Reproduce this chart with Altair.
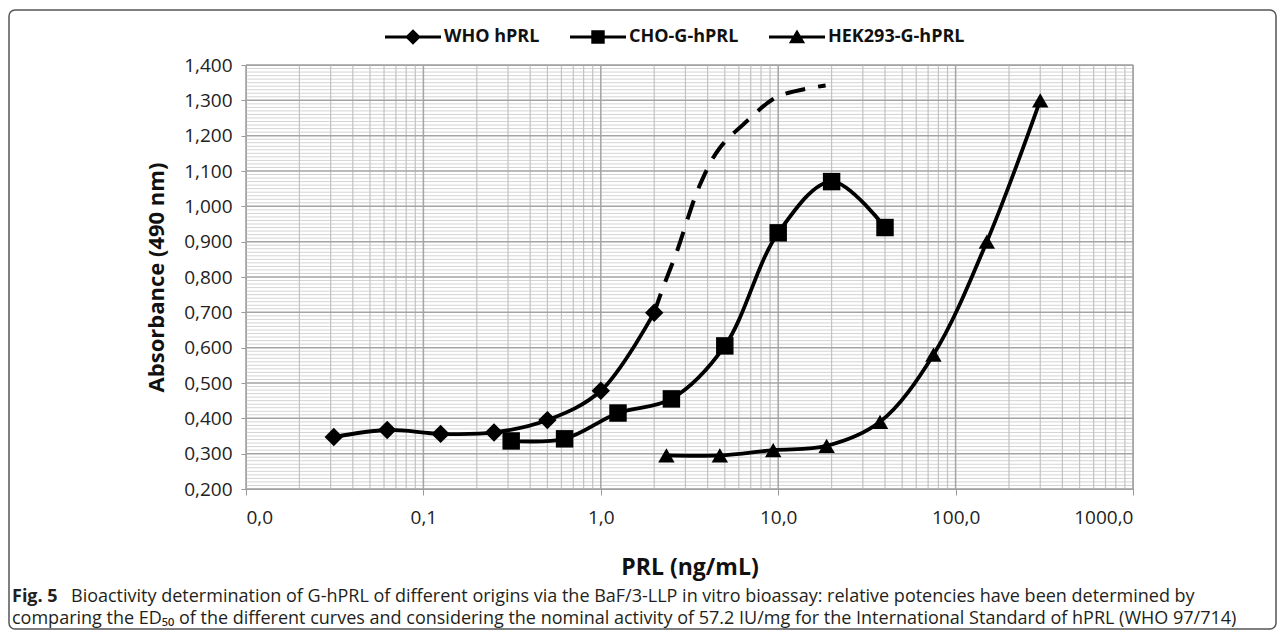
import altair as alt
import pandas as pd

# ---------------- data ----------------
SERIES = ["WHO hPRL", "CHO-G-hPRL", "HEK293-G-hPRL"]

WHO_X = [0.03125, 0.0625, 0.125, 0.25, 0.5, 1.0, 2.0]
WHO_Y = [0.347, 0.367, 0.356, 0.360, 0.395, 0.478, 0.699]

CHO_X = [0.3125, 0.625, 1.25, 2.5, 5.0, 10.0, 20.0, 40.0]
CHO_Y = [0.336, 0.342, 0.415, 0.455, 0.605, 0.925, 1.070, 0.940]

HEK_X = [2.34375, 4.6875, 9.375, 18.75, 37.5, 75.0, 150.0, 300.0]
HEK_Y = [0.295, 0.295, 0.310, 0.322, 0.390, 0.580, 0.900, 1.300]

# dashed extrapolation of the WHO curve
EXT_X = [2.0, 2.25, 2.68, 3.6, 4.65, 6.7, 9.9, 18.5]
EXT_Y = [0.699, 0.772, 0.871, 1.058, 1.163, 1.242, 1.310, 1.342]

X_MAJOR = [0.01, 0.1, 1, 10, 100, 1000]
X_MINOR = [0.02, 0.03, 0.04, 0.05, 0.06, 0.07, 0.08, 0.09,
           0.2, 0.3, 0.4, 0.5, 0.6, 0.7, 0.8, 0.9,
           2, 3, 4, 5, 6, 7, 8, 9,
           20, 30, 40, 50, 60, 70, 80, 90,
           200, 300, 400, 500, 600, 700, 800, 900]
Y_MAJOR = [0.2, 0.3, 0.4, 0.5, 0.6, 0.7, 0.8, 0.9, 1.0, 1.1, 1.2, 1.3, 1.4]
Y_MINOR = [round(0.2 + 0.01 * i, 2) for i in range(121) if i % 10 != 0]

X_TITLE = "PRL (ng/mL)"
Y_TITLE = "Absorbance (490 nm)"
CAPTION_BOLD = "Fig. 5"
CAPTION_1 = ("Bioactivity determination of G-hPRL of different origins via the BaF/3-LLP in vitro "
             "bioassay: relative potencies have been determined by")
CAPTION_2 = ("comparing the ED\u2085\u2080 of the different curves and considering the nominal activity "
             "of 57.2 IU/mg for the International Standard of hPRL (WHO 97/714)")

# legend symbols: line stub + marker (custom SVG paths in unit space)
LEGEND_PATHS = [
    "M-1,-0.055H1V0.055H-1Z M0,-0.28L0.28,0L0,0.28L-0.28,0Z",
    "M-1,-0.055H1V0.055H-1Z M-0.24,-0.24H0.24V0.24H-0.24Z",
    "M-1,-0.055H1V0.055H-1Z M0,-0.27L0.29,0.22L-0.29,0.22Z",
]

FONT = "Open Sans"
CAP_FONT = "Open Sans"
W, H = 887, 424

rows = []
for name, xs, ys in [(SERIES[0], WHO_X, WHO_Y), (SERIES[1], CHO_X, CHO_Y), (SERIES[2], HEK_X, HEK_Y)]:
    for xv, yv in zip(xs, ys):
        rows.append({"series": name, "x": xv, "y": yv})
df = pd.DataFrame(rows)
ext_df = pd.DataFrame({"x": EXT_X, "y": EXT_Y})

xscale = alt.Scale(type="log", domain=[0.01, 1000], nice=False)
yscale = alt.Scale(domain=[0.2, 1.4], nice=False, zero=False)

xaxis = alt.Axis(values=X_MAJOR, labelExpr="replace(format(datum.value, '.1f'), '.', ',')",
                 grid=False, labelFont=FONT, labelFontSize=19, labelColor="#222",
                 labelPadding=13, tickSize=6, tickColor="#999", domainColor="#999",
                 titleFont=FONT, titleFontSize=23, titleFontWeight="bold", titleColor="#111",
                 titlePadding=29)
yaxis = alt.Axis(values=Y_MAJOR, labelExpr="replace(format(datum.value, '.3f'), '.', ',')",
                 grid=False, labelFont=FONT, labelFontSize=19, labelColor="#222",
                 labelPadding=9, tickSize=5, tickColor="#999", domainColor="#999",
                 titleFont=FONT, titleFontSize=22, titleFontWeight="bold", titleColor="#111",
                 titlePadding=15)

X = alt.X("x:Q", scale=xscale, axis=xaxis, title=X_TITLE)
Y = alt.Y("y:Q", scale=yscale, axis=yaxis, title=Y_TITLE)

hminor = alt.Chart(pd.DataFrame({"y": Y_MINOR})).mark_rule(color="#d4d4d4", strokeWidth=1).encode(y=Y)
vminor = alt.Chart(pd.DataFrame({"x": X_MINOR})).mark_rule(color="#c2c2c2", strokeWidth=1.2).encode(x=X)
hmajor = alt.Chart(pd.DataFrame({"y": Y_MAJOR})).mark_rule(color="#a4a4a4", strokeWidth=1.5).encode(y=Y)
vmajor = alt.Chart(pd.DataFrame({"x": X_MAJOR})).mark_rule(color="#a4a4a4", strokeWidth=1.5).encode(x=X)

lines = alt.Chart(df).mark_line(interpolate="catmull-rom", strokeWidth=3.8, color="black").encode(
    x=X, y=Y, detail="series:N")
dashed = alt.Chart(ext_df).mark_line(interpolate="catmull-rom", strokeWidth=4, color="black",
                                     strokeDash=[20, 13]).encode(x=X, y=Y)
points = alt.Chart(df).mark_point(filled=True, color="black", opacity=1).encode(
    x=X, y=Y,
    shape=alt.Shape("series:N", scale=alt.Scale(domain=SERIES, range=["diamond", "square", "triangle-up"]),
                    legend=None),
    size=alt.Size("series:N", scale=alt.Scale(domain=SERIES, range=[340, 270, 420]), legend=None),
)
legend_layer = alt.Chart(df).mark_point(filled=True, color="black", opacity=0).encode(
    x=X, y=Y,
    shape=alt.Shape("series:N", scale=alt.Scale(domain=SERIES, range=LEGEND_PATHS),
                    legend=alt.Legend(orient="none", legendX=139, legendY=-56, direction="horizontal",
                                      title=None, labelFont=FONT, labelFontSize=18,
                                      labelFontWeight="bold", labelColor="#111", symbolSize=3136,
                                      symbolFillColor="black", symbolStrokeColor="black",
                                      symbolStrokeWidth=0, symbolOpacity=1, labelOffset=3,
                                      columnPadding=30, padding=0)),
)

one = pd.DataFrame({"t": [CAPTION_BOLD]})
cap_bold = alt.Chart(one).mark_text(align="left", baseline="middle", font=CAP_FONT, fontSize=18,
                                    fontWeight="bold", color="#231f20").encode(
    x=alt.value(-234), y=alt.value(532), text="t:N")
cap1 = alt.Chart(pd.DataFrame({"t": [CAPTION_1]})).mark_text(
    align="left", baseline="middle", font=CAP_FONT, fontSize=18, color="#231f20").encode(
    x=alt.value(-175), y=alt.value(532), text="t:N")
cap2 = alt.Chart(pd.DataFrame({"t": [CAPTION_2]})).mark_text(
    align="left", baseline="middle", font=CAP_FONT, fontSize=18, color="#231f20").encode(
    x=alt.value(-234), y=alt.value(554), text="t:N")
border = alt.Chart(one).mark_rect(fill=None, stroke="#555", strokeWidth=1.5, cornerRadius=6).encode(
    x=alt.value(-237), x2=alt.value(1030), y=alt.value(-55), y2=alt.value(564))

chart = alt.layer(
    hminor, vminor, hmajor, vmajor, lines, dashed, points, legend_layer,
    cap_bold, cap1, cap2, border
).resolve_scale(shape="independent").properties(
    width=W, height=H,
    padding={"left": 238, "top": 57, "right": 144, "bottom": 141},
    autosize=alt.AutoSizeParams(type="none"),
    background="white",
).configure_view(stroke="#a0a0a0", strokeWidth=1.2)

chart.save("out.html", embed_options={"renderer": "svg", "actions": False})
